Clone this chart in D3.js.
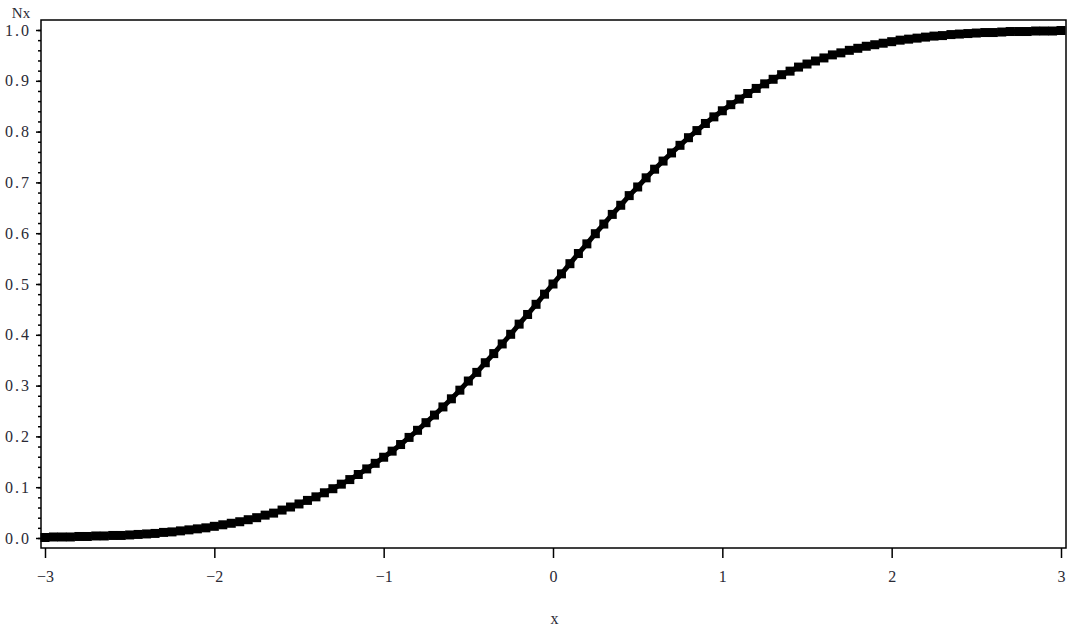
<!DOCTYPE html>
<html>
<head>
<meta charset="utf-8">
<script src="https://cdn.jsdelivr.net/npm/d3@7"></script>
<style>
body { margin:0; background:#fff; }
text { font-family: "Liberation Serif", "DejaVu Serif", serif; fill:#2a2a35; }
</style>
</head>
<body>
<svg id="graph1"></svg>
<script>
var xValues = [-3.00,-2.95,-2.90,-2.85,-2.80,-2.75,-2.70,-2.65,-2.60,-2.55,-2.50,-2.45,-2.40,-2.35,-2.30,-2.25,-2.20,-2.15,-2.10,-2.05,
    -2.00,-1.95,-1.90,-1.85,-1.80,-1.75,-1.70,-1.65,-1.60,-1.55,-1.50,-1.45,-1.40,-1.35,-1.30,-1.25,-1.20,-1.15,-1.10,-1.05,
    -1.00,-0.95,-0.90,-0.85,-0.80,-0.75,-0.70,-0.65,-0.60,-0.55,-0.50,-0.45,-0.40,-0.35,-0.30,-0.25,-0.20,-0.15,-0.10,-0.05,
    0.00,0.05,0.10,0.15,0.20,0.25,0.30,0.35,0.40,0.45,0.50,0.55,0.60,0.65,0.70,0.75,0.80,0.85,0.90,0.95,
    1.00,1.05,1.10,1.15,1.20,1.25,1.30,1.35,1.40,1.45,1.50,1.55,1.60,1.65,1.70,1.75,1.80,1.85,1.90,1.95,
    2.00,2.05,2.10,2.15,2.20,2.25,2.30,2.35,2.40,2.45,2.50,2.55,2.60,2.65,2.70,2.75,2.80,2.85,2.90,2.95,3.00]

var nxValues = [0.001,0.002,0.002,0.002,0.003,0.003,0.004,0.004,0.005,0.005,0.006,0.007,0.008,0.009,0.011,0.012,0.014,0.016,0.018,0.020,
    0.023,0.026,0.029,0.032,0.036,0.040,0.045,0.049,0.055,0.061,0.067,0.074,0.081,0.089,0.097,0.106,0.115,0.125,0.136,0.147,
    0.159,0.171,0.184,0.198,0.212,0.227,0.242,0.258,0.274,0.291,0.309,0.326,0.345,0.363,0.382,0.401,0.421,0.440,0.460,0.480,
    0.500,0.520,0.540,0.560,0.579,0.599,0.618,0.637,0.655,0.674,0.691,0.709,0.726,0.742,0.758,0.773,0.788,0.802,0.816,0.829,
    0.841,0.853,0.864,0.875,0.885,0.894,0.903,0.912,0.919,0.927,0.933,0.939,0.945,0.951,0.955,0.960,0.964,0.968,0.971,0.974,
    0.977,0.980,0.982,0.984,0.986,0.988,0.989,0.991,0.992,0.993,0.994,0.995,0.995,0.996,0.997,0.997,0.997,0.998,0.998,0.998,0.999]

var xTicks = [-3,-2,-1,0,1,2,3]
var yTicks = [0,0.1,0.2,0.3,0.4,0.5,0.6,0.7,0.8,0.9,1.0]
var xLabel = "x"
var yLabel = "Nx"

var initGraph = function(xs, ys)
{
    var screen = {width:1071, height:628}
    var frame = {left:41, right:1066, top:20, bottom:548}

    var svg = d3.select("#graph1")
        .attr("width", screen.width)
        .attr("height", screen.height)

    var xScale = d3.scaleLinear()
        .domain([-3,3])
        .range([45,1061])

    var yScale = d3.scaleLinear()
        .domain([0,1])
        .range([538,30])

    // frame
    svg.append("rect")
        .attr("x", frame.left)
        .attr("y", frame.top)
        .attr("width", frame.right-frame.left)
        .attr("height", frame.bottom-frame.top)
        .attr("fill", "none")
        .attr("stroke", "black")
        .attr("stroke-width", 1.5)

    drawAxis(svg, frame, xScale, yScale)

    var pts = xs.map(function(x,i){ return {x:x, y:ys[i]} })

    // thick joining line under the markers
    var line = d3.line()
        .x(function(d){ return xScale(d.x) })
        .y(function(d){ return yScale(d.y) })
    svg.append("path")
        .datum(pts)
        .attr("d", line)
        .attr("fill", "none")
        .attr("stroke", "black")
        .attr("stroke-width", 5)

    var size = 9
    svg.append("g")
        .selectAll("rect")
        .data(pts)
        .enter()
        .append("rect")
        .attr("x", function(d){ return xScale(d.x)-size/2 })
        .attr("y", function(d){ return yScale(d.y)-size/2 })
        .attr("width", size)
        .attr("height", size)
        .attr("fill", "black")

    drawLabels(svg, frame)
}

var drawAxis = function(svg, frame, xScale, yScale)
{
    var xAxis = d3.axisBottom(xScale)
        .tickValues(xTicks)
        .tickFormat(d3.format("d"))
        .tickSize(10)
        .tickPadding(13)

    var yAxis = d3.axisLeft(yScale)
        .tickValues(yTicks)
        .tickFormat(d3.format(".1f"))
        .tickSize(5)
        .tickPadding(5)

    var yMinor = d3.axisLeft(yScale)
        .tickValues(d3.range(0,51).map(function(i){ return i/50 }))
        .tickFormat("")
        .tickSize(3)

    var gx = svg.append("g")
        .attr("transform", "translate(0,"+frame.bottom+")")
        .call(xAxis)
    gx.select(".domain").remove()
    gx.selectAll("line").attr("stroke","black").attr("stroke-width",1.5)
    gx.selectAll("text").style("font-size","16px").attr("fill","#2a2a35")

    var gm = svg.append("g")
        .attr("transform", "translate("+frame.left+",0)")
        .call(yMinor)
    gm.select(".domain").remove()
    gm.selectAll("line").attr("stroke","black").attr("stroke-width",1.5)

    var gy = svg.append("g")
        .attr("transform", "translate("+frame.left+",0)")
        .call(yAxis)
    gy.select(".domain").remove()
    gy.selectAll("line").attr("stroke","black").attr("stroke-width",1.5)
    gy.selectAll("text").style("font-size","16px").attr("fill","#2a2a35").style("letter-spacing","2px")
}

var drawLabels = function(svg, frame)
{
    svg.append("text")
        .text(yLabel)
        .attr("x", 21)
        .attr("y", 18)
        .attr("text-anchor","middle")
        .style("font-size","15px")

    svg.append("text")
        .text(xLabel)
        .attr("x", (frame.left+frame.right)/2 + 1)
        .attr("y", 624)
        .attr("text-anchor","middle")
        .style("font-size","16px")
}

initGraph(xValues, nxValues)
</script>
</body>
</html>
